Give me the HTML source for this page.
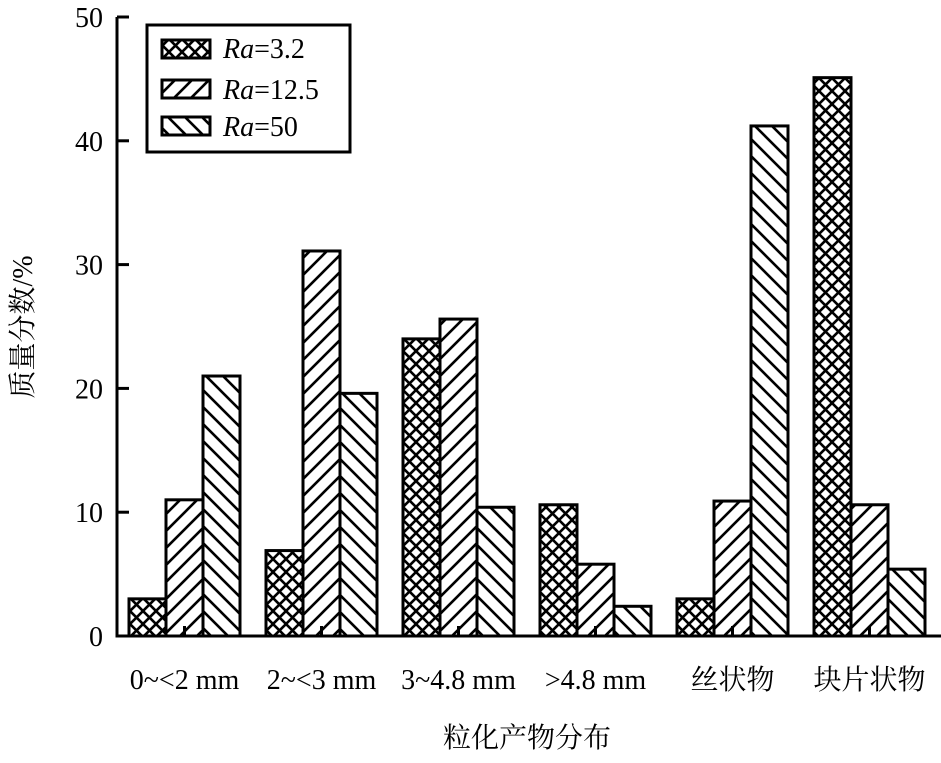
<!DOCTYPE html>
<html><head><meta charset="utf-8"><style>
body{margin:0;background:#fff}
svg text{font-family:"Liberation Serif","Noto Serif CJK SC",serif;fill:#000}
</style></head><body>
<svg id="chart" width="941" height="758" viewBox="0 0 941 758">
<defs>
<pattern id="pCross" patternUnits="userSpaceOnUse" width="13" height="13">
<path d="M0,0L13,13M13,0L0,13M-1,12L1,14M12,-1L14,1" stroke="#000" stroke-width="2.6"/>
</pattern>
<pattern id="pFwd" patternUnits="userSpaceOnUse" width="17" height="17">
<path d="M0,17L17,0M-4,4L4,-4M13,21L21,13" stroke="#000" stroke-width="2.6"/>
</pattern>
<pattern id="pBack" patternUnits="userSpaceOnUse" width="17" height="17">
<path d="M0,0L17,17M-4,13L4,21M13,-4L21,4" stroke="#000" stroke-width="2.6"/>
</pattern>
</defs>
<g id="bars"></g>
<g id="axes"></g>
<g>
<rect x="147" y="25" width="203" height="127" fill="#fff" stroke="#000" stroke-width="3"/>
<rect x="162" y="40" width="48" height="18" fill="url(#pCross)" stroke="#000" stroke-width="3"/>
<text x="223" y="58" font-size="28"><tspan font-style="italic">Ra</tspan>=3.2</text>
<rect x="162" y="80" width="48" height="18" fill="url(#pFwd)" stroke="#000" stroke-width="3"/>
<text x="223" y="99" font-size="28"><tspan font-style="italic">Ra</tspan>=12.5</text>
<rect x="162" y="117" width="48" height="18" fill="url(#pBack)" stroke="#000" stroke-width="3"/>
<text x="223" y="136" font-size="28"><tspan font-style="italic">Ra</tspan>=50</text>
</g>
<text x="0" y="0" font-size="28" text-anchor="middle" transform="translate(32,327) rotate(-90)">质量分数/%</text>
<text x="527" y="747" font-size="28" text-anchor="middle">粒化产物分布</text>
</svg>
<script>
const categories=["0~<2 mm","2~<3 mm","3~4.8 mm",">4.8 mm","丝状物","块片状物"];
const seriesNames=["Ra=3.2","Ra=12.5","Ra=50"];
const ra32=[3.0,6.9,24.0,10.6,3.0,45.1];
const ra125=[11.0,31.1,25.6,5.8,10.9,10.6];
const ra50=[21.0,19.6,10.4,2.4,41.2,5.4];
const yTicks=[0,10,20,30,40,50];
const NS="http://www.w3.org/2000/svg";
const x0=117,baseY=636,topY=17,yMax=50;
const y=v=>baseY-(baseY-topY)*v/yMax;
const groupStart=i=>129+i*137;
const barW=37;
const fills=["url(#pCross)","url(#pFwd)","url(#pBack)"];
const series=[ra32,ra125,ra50];
const bars=document.getElementById('bars');
series.forEach((s,si)=>{s.forEach((v,ci)=>{
 const r=document.createElementNS(NS,'rect');
 r.setAttribute('x',groupStart(ci)+si*barW);
 r.setAttribute('y',y(v));
 r.setAttribute('width',barW);
 r.setAttribute('height',baseY-y(v));
 r.setAttribute('fill',fills[si]);
 r.setAttribute('stroke','#000');
 r.setAttribute('stroke-width','3');
 
 
 bars.appendChild(r);
});});
const axes=document.getElementById('axes');
function line(x1,y1,x2,y2,name){const l=document.createElementNS(NS,'line');
 l.setAttribute('x1',x1);l.setAttribute('y1',y1);l.setAttribute('x2',x2);l.setAttribute('y2',y2);
 l.setAttribute('stroke','#000');l.setAttribute('stroke-width','3');
 
 
 axes.appendChild(l);}
line(x0,topY,x0,baseY+1.5,'y-axis');
line(x0,baseY,941,baseY,'x-axis');
yTicks.forEach(t=>{
 line(x0,y(t),x0+12,y(t),'y-tick');
 const tx=document.createElementNS(NS,'text');
 tx.setAttribute('x',x0-14);tx.setAttribute('y',y(t)+10);
 tx.setAttribute('font-size','28');tx.setAttribute('text-anchor','end');
 tx.textContent=t;
 
 
 axes.appendChild(tx);
});
categories.forEach((c,i)=>{
 const cx=groupStart(i)+barW*1.5;
 line(cx,baseY,cx,baseY-10,'x-tick');
 const tx=document.createElementNS(NS,'text');
 tx.setAttribute('x',cx);tx.setAttribute('y',689);
 tx.setAttribute('font-size','28');tx.setAttribute('text-anchor','middle');
 tx.textContent=c;
 
 
 axes.appendChild(tx);
});
</script>
</body></html>
